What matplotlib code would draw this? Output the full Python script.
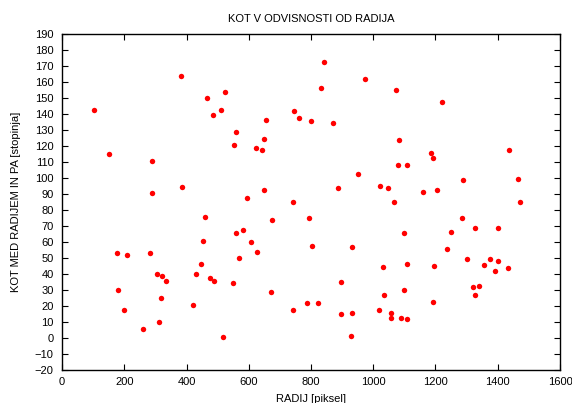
import numpy as np
import matplotlib.pyplot as plt

plt.rcParams['font.family'] = ['Liberation Sans', 'DejaVu Sans']

# radij [piksel]
radij = [104, 151, 176, 181, 198, 209, 260, 290, 288, 283, 304, 312, 322, 319, 335,
         381, 386, 420, 431, 446, 452, 461, 465, 474, 485, 489, 511, 518, 525, 548,
         559, 554, 560, 570, 580, 595, 608, 625, 622, 641, 648, 649, 655, 670, 675,
         741, 742, 746, 762, 786, 792, 803, 800, 824, 832, 842, 870, 888, 898, 896,
         931, 927, 931, 951, 974, 1023, 1030, 1034, 1020, 1049, 1057, 1057, 1066, 1073, 1082,
         1078, 1090, 1098, 1100, 1107, 1107, 1107, 1160, 1187, 1192, 1196, 1191, 1205, 1221, 1236,
         1250, 1284, 1288, 1302, 1319, 1327, 1327, 1339, 1356, 1375, 1391, 1401, 1401, 1434, 1437,
         1464, 1471]
# kot [stopinja]
kot = [143, 115, 53.5, 30, 17.5, 52, 6, 111, 91, 53.5, 40.5, 10, 39, 25.5, 36,
       164, 94.5, 21, 40, 46.5, 61, 76, 150.5, 37.5, 139.5, 36, 142.5, 1, 154, 34.5,
       129, 121, 66, 50.5, 68, 88, 60, 54, 119, 118, 124.5, 93, 136.5, 29, 74,
       85, 18, 142, 137.5, 22, 75.5, 58, 136, 22, 156.5, 173, 134.5, 94, 35, 15,
       57, 1.5, 16, 103, 162, 95.5, 44.5, 27, 18, 94, 16, 12.5, 85, 155, 124,
       108.5, 12.5, 30, 66, 108.5, 46.5, 12, 91.5, 116, 113, 45.5, 22.5, 93, 148, 56,
       66.5, 75, 99, 49.5, 32, 27, 69, 33, 46, 49.5, 42, 69, 48.5, 44, 118,
       99.5, 85.5]

fig = plt.figure(figsize=(5.72, 4.03), dpi=100)
ax = fig.add_axes([0.1084, 0.0811, 0.8706, 0.8337])

ax.plot(radij, kot, 'o', color='#ff0000', markersize=3.9, markeredgewidth=0)

ax.set_xlim(0, 1600)
ax.set_ylim(-20, 190)
ax.set_xticks(np.arange(0, 1601, 200))
ax.set_yticks(np.arange(-20, 191, 10))
ax.tick_params(direction='in', length=4, width=0.8, top=True, right=True,
               labelsize=8)
ax.tick_params(axis='y', pad=6)
ax.tick_params(axis='x', pad=5)
for s in ax.spines.values():
    s.set_linewidth(1.0)

ax.set_title('KOT V ODVISNOSTI OD RADIJA', fontsize=8, pad=9)
ax.set_xlabel('RADIJ [piksel]', fontsize=8, labelpad=4.5)
ax.set_ylabel('KOT MED RADIJEM IN PA [stopinja]', fontsize=8, labelpad=10)

plt.savefig('out.png', dpi=100)
